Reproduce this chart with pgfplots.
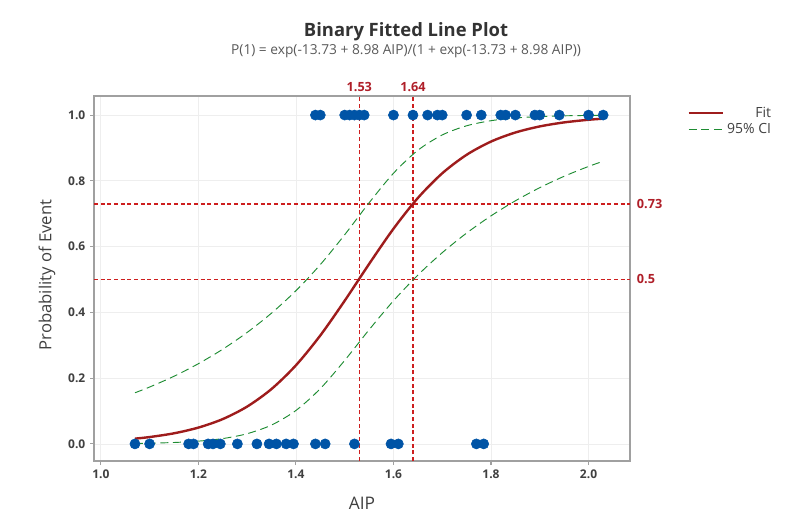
\documentclass[border=0pt]{standalone}
\usepackage{fontspec}
\setmainfont{Open Sans}
\usepackage{pgfplots}
\pgfplotsset{compat=1.18}
\definecolor{dotblue}{RGB}{0,84,166}
\definecolor{fitred}{RGB}{158,28,28}
\definecolor{cigreen}{RGB}{30,140,50}
\definecolor{refred}{RGB}{205,30,30}
\definecolor{lblred}{RGB}{175,30,40}
\definecolor{boxgray}{RGB}{160,160,160}
\definecolor{gridgray}{RGB}{238,238,238}
\definecolor{txtgray}{RGB}{64,64,64}

\begin{document}
\begin{tikzpicture}
\useasboundingbox (0,0) rectangle (591pt,396.75pt);
\begin{axis}[
  at={(70.5pt,51pt)}, anchor=south west, scale only axis,
  width=402pt, height=273.75pt,
  xmin=0.986, xmax=2.085, ymin=-0.052, ymax=1.058,
  xtick={1.0,1.2,1.4,1.6,1.8,2.0},
  ytick={0,0.2,0.4,0.6,0.8,1.0},
  /pgf/number format/assume math mode=true,
  /pgf/number format/fixed, /pgf/number format/fixed zerofill,
  /pgf/number format/precision=1,
  tick label style={font=\fontsize{9}{10}\selectfont\bfseries, text=txtgray},
  grid=major, grid style={gridgray, line width=0.6pt},
  axis line style={boxgray, line width=1pt},
  tick style={boxgray, line width=0.8pt}, tick align=outside,
  major tick length=3pt,
  xtick pos=bottom, ytick pos=left,
  clip=false,
  legend style={at={(1.276,0.985)}, anchor=north east, draw=none, fill=none,
    font=\fontsize{10.5}{12}\selectfont, text=txtgray, cells={anchor=east},
    row sep=-1pt},
  legend image code/.code={\draw[#1] (0pt,0pt) -- (26pt,0pt);},
]
% reference lines
\addplot[refred, line width=1pt, dash pattern=on 3pt off 2pt, forget plot] coordinates {(0.986,0.73)(2.085,0.73)};
\addplot[refred, line width=1pt, dash pattern=on 3pt off 2pt, forget plot] coordinates {(0.986,0.5)(2.085,0.5)};
\addplot[refred, line width=1pt, dash pattern=on 3pt off 2pt, forget plot] coordinates {(1.53,-0.052)(1.53,1.058)};
\addplot[refred, line width=1pt, dash pattern=on 3pt off 2pt, forget plot] coordinates {(1.64,-0.052)(1.64,1.058)};
% fitted line
\addplot[fitred, line width=1.8pt, smooth] coordinates {
  (1.07,0.0160)(1.10,0.0208)(1.15,0.0322)(1.20,0.0496)(1.25,0.0755)
  (1.30,0.1135)(1.35,0.1670)(1.40,0.2390)(1.45,0.3298)(1.50,0.4354)
  (1.55,0.5471)(1.60,0.6543)(1.65,0.7478)(1.70,0.8229)(1.75,0.8792)
  (1.80,0.9194)(1.85,0.9470)(1.90,0.9655)(1.95,0.9777)(2.00,0.9857)
  (2.03,0.9890)
}; \addlegendentry{Fit}
% 95% CI
\addplot[cigreen, line width=0.7pt, dash pattern=on 6pt off 3.5pt, smooth] coordinates {
  (1.07,0.1555)(1.10,0.1729)(1.15,0.2057)(1.20,0.2439)(1.25,0.2880)
  (1.30,0.3390)(1.35,0.3977)(1.40,0.4658)(1.45,0.5452)(1.50,0.6361)
  (1.55,0.7331)(1.60,0.8230)(1.65,0.8929)(1.70,0.9395)(1.75,0.9674)
  (1.80,0.9829)(1.85,0.9912)(1.90,0.9955)(1.95,0.9977)(2.00,0.9989)
  (2.03,0.9992)
}; \addlegendentry{95\% CI}
\addplot[cigreen, line width=0.7pt, dash pattern=on 6pt off 3.5pt, smooth, forget plot] coordinates {
  (1.07,0.0014)(1.10,0.0022)(1.15,0.0043)(1.20,0.0084)(1.25,0.0162)
  (1.30,0.0310)(1.35,0.0574)(1.40,0.1016)(1.45,0.1681)(1.50,0.2539)
  (1.55,0.3470)(1.60,0.4352)(1.65,0.5134)(1.70,0.5815)(1.75,0.6412)
  (1.80,0.6935)(1.85,0.7393)(1.90,0.7792)(1.95,0.8139)(2.00,0.8438)
  (2.03,0.8595)
};
% observations
\addplot[only marks, mark=*, mark size=3.8pt, draw=dotblue, fill=dotblue, forget plot] coordinates {
  (1.44,1)(1.45,1)(1.50,1)(1.51,1)(1.52,1)(1.53,1)(1.54,1)(1.60,1)
  (1.64,1)(1.67,1)(1.69,1)(1.70,1)(1.75,1)(1.78,1)(1.82,1)(1.83,1)
  (1.85,1)(1.89,1)(1.90,1)(1.94,1)(2.00,1)(2.03,1)
  (1.07,0)(1.10,0)(1.18,0)(1.19,0)(1.22,0)(1.23,0)(1.245,0)(1.28,0)
  (1.32,0)(1.345,0)(1.36,0)(1.38,0)(1.395,0)(1.44,0)(1.46,0)(1.52,0)
  (1.595,0)(1.61,0)(1.77,0)(1.785,0)
};
% reference labels
\node[anchor=base, inner sep=0pt, yshift=3pt, text=lblred, font=\fontsize{9.5}{11}\selectfont\bfseries] at (axis cs:1.53,1.058) {1.53};
\node[anchor=base, inner sep=0pt, yshift=3pt, text=lblred, font=\fontsize{9.5}{11}\selectfont\bfseries] at (axis cs:1.64,1.058) {1.64};
\node[anchor=west, inner sep=0pt, xshift=5pt, text=lblred, font=\fontsize{9.5}{11}\selectfont\bfseries] at (axis cs:2.085,0.73) {0.73};
\node[anchor=west, inner sep=0pt, xshift=5pt, text=lblred, font=\fontsize{9.5}{11}\selectfont\bfseries] at (axis cs:2.085,0.5) {0.5};
\end{axis}
\node[text=black!80, font=\fontsize{13.8}{16}\selectfont\bfseries] at (304.5pt,372.75pt) {Binary Fitted Line Plot};
\node[text=black!65, font=\fontsize{10.3}{12}\selectfont] at (304.5pt,358pt) {P(1) = exp(-13.73 + 8.98 AIP)/(1 + exp(-13.73 + 8.98 AIP))};
\node[text=txtgray, font=\fontsize{13}{15}\selectfont] at (271.5pt,19.5pt) {AIP};
\node[text=txtgray, font=\fontsize{12.5}{15}\selectfont, rotate=90] at (35.25pt,190.5pt) {Probability of Event};
\end{tikzpicture}
\end{document}
